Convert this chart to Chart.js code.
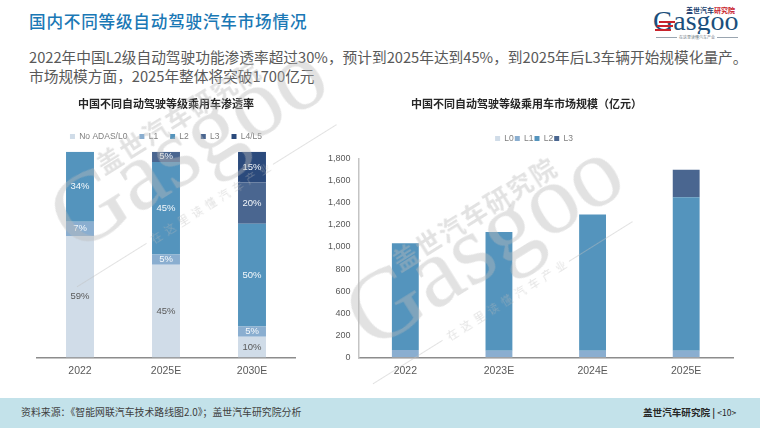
<!DOCTYPE html>
<html lang="zh"><head><meta charset="utf-8">
<script src="https://cdn.jsdelivr.net/npm/chart.js@4"></script>
<style>
html,body{margin:0;padding:0;background:#fff;overflow:hidden}
#page{position:relative;width:760px;height:428px;font-family:"Noto Sans CJK SC","Noto Sans",sans-serif;overflow:hidden}
.abs{position:absolute;white-space:nowrap}
canvas{display:block}
.wm{position:absolute;width:0;height:0;transform:rotate(-32deg);transform-origin:0 0;pointer-events:none;z-index:5}
.wm div{position:absolute;white-space:nowrap;color:rgba(185,185,185,.42)}
.wm .g{font:400 100px/100px "Liberation Serif",serif;left:0;top:-85px}
.wm .cn{font:700 25px/26px "Noto Sans CJK SC";left:66px;top:-77px;letter-spacing:2px}
.wm .ln{top:27px;height:1px;background:rgba(190,190,190,.45)}
.wm .sl{font:400 11px/14px "Noto Sans CJK SC";left:72px;top:20px;letter-spacing:5px}
</style></head><body>
<div id="page">
<div class="abs" style="left:29px;top:9px;font-size:16.6px;line-height:24px;font-weight:500;color:#1a78b5;letter-spacing:.8px">国内不同等级自动驾驶汽车市场情况</div>
<div class="abs" style="left:29px;top:46px;font-size:14.7px;line-height:21px;color:#595959">2022年中国L2级自动驾驶功能渗透率超过30%，预计到2025年达到45%，到2025年后L3车辆开始规模化量产。</div>
<div class="abs" style="left:29px;top:65px;font-size:14.7px;line-height:21px;color:#595959">市场规模方面，2025年整体将突破1700亿元</div>

<div class="abs" style="left:686px;top:6px;font-size:7px;line-height:9px;font-weight:700;color:#1b3f6f">盖世汽车<span style="color:#c8232c">研究院</span></div>
<div class="abs" style="left:653px;top:4px;font:400 28px/34px 'Liberation Serif',serif;color:#1b4f7c">Gasgoo</div>
<div class="abs" style="left:659px;top:21px;width:16px;height:2px;background:#c8232c"></div>
<div class="abs" style="left:657px;top:25px;width:16px;height:2px;background:#c8232c"></div>
<div class="abs" style="left:655px;top:29px;width:16px;height:2px;background:#c8232c"></div>
<div class="abs" style="left:656px;top:37px;width:82px;height:1px;background:#9aa5b0"></div>
<div class="abs" style="left:677px;top:34px;font-size:4px;line-height:6px;color:#6f7b86;background:#fff;padding:0 2px">在这里读懂汽车产业</div>

<div class="abs" style="left:0;top:90px;width:332px;height:300px"><canvas id="c1" width="332" height="300"></canvas></div>
<div class="abs" style="left:320px;top:90px;width:420px;height:300px"><canvas id="c2" width="420" height="300"></canvas></div>

<div class="wm" style="left:76px;top:255px"><div class="g">Gasgoo</div><div class="cn">盖世汽车研究院</div><div class="ln" style="left:-16px;width:82px"></div><div class="ln" style="left:215px;width:75px"></div><div class="sl">在这里读懂汽车产业</div></div>
<div class="wm" style="left:372px;top:352px"><div class="g">Gasgoo</div><div class="cn">盖世汽车研究院</div><div class="ln" style="left:-16px;width:82px"></div><div class="ln" style="left:215px;width:75px"></div><div class="sl">在这里读懂汽车产业</div></div>

<div class="abs" style="left:0;top:398px;width:760px;height:30px;background:#c3e2ea"></div>
<div class="abs" style="left:21px;top:405px;font-size:9.9px;line-height:15px;color:#404040">资料来源：《智能网联汽车技术路线图2.0》；盖世汽车研究院分析</div>
<div class="abs" style="left:643px;top:405px;font-size:9.6px;line-height:15px;color:#262626;font-weight:700">盖世汽车研究院 | <span style="font-weight:400;font-size:8.5px">&lt;10&gt;</span></div>
</div>
<script>
const shareCategories = ["2022","2025E","2030E"];
const shareL0 = [59,45,10];
const shareL1 = [7,5,5];
const shareL2 = [34,45,50];
const shareL3 = [null,5,20];
const shareL45 = [null,null,15];

const sizeCategories = ["2022","2023E","2024E","2025E"];
const sizeL0 = [4,3,3,3];
const sizeL1 = [62,58,58,58];
const sizeL2 = [969,1076,1234,1389];
const sizeL3 = [null,null,null,250];
const sizeTicks = [0,200,400,600,800,1000,1200,1400,1600,1800];

const COL = {l0:"#d0dce8",l1:"#8aaed0",l2:"#5494bd",l3:"#4a6690",l45:"#2b4a7c"};
const SANS = '"Liberation Sans",Arial,sans-serif';
const CJK = '"Noto Sans CJK SC",sans-serif';
const labelPlugin = {id:"segLabels",afterDatasetsDraw(chart,args,opts){
  if(!opts.show) return;
  const c = chart.ctx; c.save();
  c.font = "9.5px "+SANS; c.textAlign="center"; c.textBaseline="middle";
  chart.data.datasets.forEach((ds,i)=>{
    chart.getDatasetMeta(i).data.forEach((el,j)=>{
      const v = ds.data[j]; if(v==null) return;
      c.fillStyle = i===0 ? "#595959" : "#f4f8fb";
      c.fillText(v+"%", el.x, (el.y+el.base)/2);
    });
  });
  c.restore();
}};
const legendGap = {id:"legendGap",
 afterInit(chart,args,opts){
  const fit = chart.legend.fit;
  chart.legend.fit = function(){ fit.call(this); this.height += opts.extra || 0; };
 },
 afterLayout(chart,args,opts){
  chart.legend.left += opts.shift || 0;
  chart.legend.right += opts.shift || 0;
 }};
function legendOpts(pad){return {position:"top",align:"center",
  labels:{boxWidth:5,boxHeight:5,padding:pad,color:"#7f7f7f",font:{family:SANS,size:8.5}}};}
function titleOpts(text,bottom){return {display:true,text,color:"#262626",
  font:{family:CJK,size:11,weight:"700"},padding:{top:7,bottom}};}

new Chart(document.getElementById("c1"),{type:"bar",plugins:[labelPlugin,legendGap],
 data:{labels:shareCategories,datasets:[
  {label:"No ADAS/L0",data:shareL0,backgroundColor:COL.l0},
  {label:"L1",data:shareL1,backgroundColor:COL.l1},
  {label:"L2",data:shareL2,backgroundColor:COL.l2},
  {label:"L3",data:shareL3,backgroundColor:COL.l3},
  {label:"L4/L5",data:shareL45,backgroundColor:COL.l45}]},
 options:{responsive:false,animation:false,devicePixelRatio:1,
  layout:{padding:{left:37,right:37,top:0,bottom:6}},
  datasets:{bar:{categoryPercentage:1,barPercentage:.325}},
  plugins:{segLabels:{show:true},legendGap:{extra:1},tooltip:{enabled:false},
   title:titleOpts("中国不同自动驾驶等级乘用车渗透率",10),legend:legendOpts(12)},
  scales:{
   x:{stacked:true,grid:{display:false,drawTicks:false},border:{color:"#8c8c8c",width:1.5},
      ticks:{color:"#595959",padding:7,font:{family:SANS,size:10.5}}},
   y:{stacked:true,display:false,min:0,max:100}}}});

new Chart(document.getElementById("c2"),{type:"bar",plugins:[labelPlugin,legendGap],
 data:{labels:sizeCategories,datasets:[
  {label:"L0",data:sizeL0,backgroundColor:COL.l0},
  {label:"L1",data:sizeL1,backgroundColor:COL.l1},
  {label:"L2",data:sizeL2,backgroundColor:COL.l2},
  {label:"L3",data:sizeL3,backgroundColor:COL.l3}]},
 options:{responsive:false,animation:false,devicePixelRatio:1,
  layout:{padding:{left:0,right:7,top:0,bottom:6}},
  datasets:{bar:{categoryPercentage:1,barPercentage:.287}},
  plugins:{segLabels:{show:false},legendGap:{extra:6,shift:7.5},tooltip:{enabled:false},
   title:titleOpts("中国不同自动驾驶等级乘用车市场规模（亿元）",23),legend:legendOpts(1)},
  scales:{
   x:{stacked:true,grid:{display:false,drawTicks:false},border:{color:"#8c8c8c",width:1.5},
      ticks:{color:"#595959",padding:7,font:{family:SANS,size:10.5}}},
   y:{stacked:true,min:0,max:1800,grid:{display:false,drawTicks:false},
      border:{color:"#c4c4c4",width:1.5},
      afterBuildTicks(a){a.ticks=sizeTicks.map(value=>({value}));},
      ticks:{color:"#595959",padding:8,font:{family:SANS,size:9},
        callback:v=>v.toLocaleString("en-US")}}}}});
</script>
</body></html>
